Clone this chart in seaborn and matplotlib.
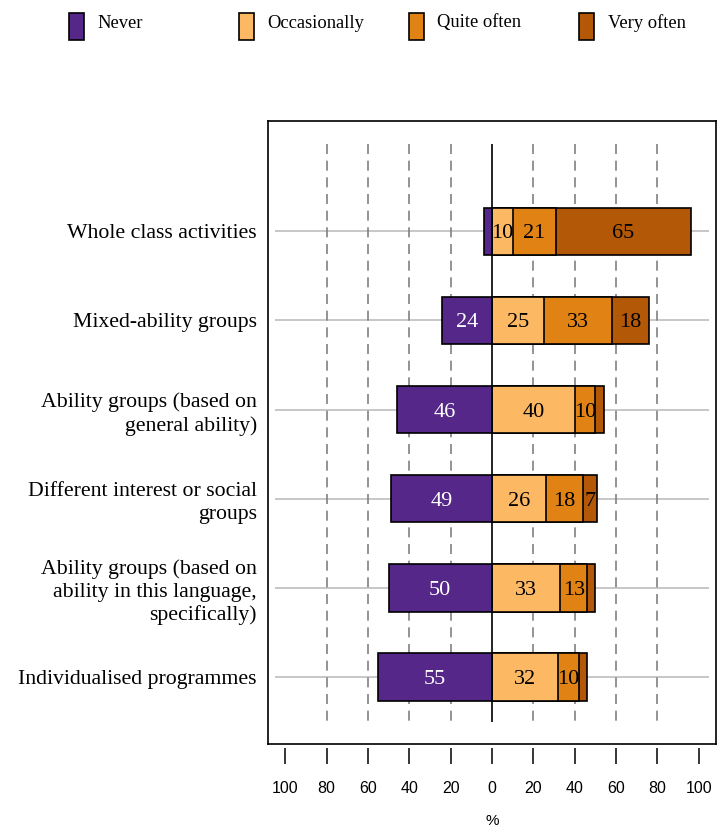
import numpy as np
import pandas as pd
import matplotlib.pyplot as plt
import seaborn as sns
from matplotlib.patches import Rectangle

sns.set_style("white")
plt.rcParams['font.family'] = ['Liberation Serif', 'DejaVu Serif']
plt.rcParams['text.color'] = 'black'
plt.rcParams['axes.labelcolor'] = 'black'
plt.rcParams['xtick.color'] = 'black'
plt.rcParams['ytick.color'] = 'black'

activities = ["Whole class activities",
              "Mixed-ability groups",
              "Ability groups (based on\ngeneral ability)",
              "Different interest or social\ngroups",
              "Ability groups (based on\nability in this language,\nspecifically)",
              "Individualised programmes"]
never = [4, 24, 46, 49, 50, 55]
occasionally = [10, 25, 40, 26, 33, 32]
quite_often = [21, 33, 10, 18, 13, 10]
very_often = [65, 18, 4, 7, 4, 4]
levels = ["Never", "Occasionally", "Quite often", "Very often"]
colors = ["#542788", "#fdb863", "#e08214", "#b35806"]
ticks = [-100, -80, -60, -40, -20, 0, 20, 40, 60, 80, 100]

df = pd.DataFrame({"activity": activities, "Never": never,
                   "Occasionally": occasionally, "Quite often": quite_often,
                   "Very often": very_often})
# cumulative right ends, never goes left
df["neg"] = -df["Never"]
df["c1"] = df["Occasionally"]
df["c2"] = df["c1"] + df["Quite often"]
df["c3"] = df["c2"] + df["Very often"]

fig = plt.figure(figsize=(7.23, 8.35), dpi=100)
ax = fig.add_axes([268/723, 1-744/835, (716-268)/723, (744-120.7)/835])

n = len(activities)
ax.hlines(range(n), -105, 105, color="#bdbdbd", lw=1.2, zorder=0)
ax.vlines([t for t in ticks if t not in (0, -100, 100)], -0.98, 5.5,
          color="#808080", lw=1.2, linestyles=(0, (6, 4)), zorder=0)

# draw longest first so the shorter cumulative bars sit on top
for col, color in [("c3", colors[3]), ("c2", colors[2]), ("c1", colors[1]), ("neg", colors[0])]:
    sns.barplot(data=df, x=col, y="activity", order=activities, color=color,
                orient="h", width=0.53, saturation=1, edgecolor="black",
                linewidth=1.2, ax=ax, zorder=2)

ax.vlines(0, -0.98, 5.5, color="black", lw=1.2, zorder=3)

# segment labels
for i in range(n):
    segs = [(-never[i] / 2, never[i], "white"),
            (occasionally[i] / 2, occasionally[i], "black"),
            (occasionally[i] + quite_often[i] / 2, quite_often[i], "black"),
            (occasionally[i] + quite_often[i] + very_often[i] / 2, very_often[i], "black")]
    for cx, v, tc in segs:
        if v >= 7:
            ax.text(cx, i, str(v), ha="center", va="center_baseline", fontsize=16,
                    color=tc, zorder=4)

ax.set_xlim(-108.3, 108.3)
ax.set_ylim(5.75, -1.24)
ax.set_xticks([])
ax.set_xlabel("")
ax.set_ylabel("")
ax.set_yticks(range(n), labels=activities)
for lab in ax.get_yticklabels():
    lab.set_linespacing(1.25)
ax.tick_params(axis="y", length=0, pad=8, labelsize=15.7)
for s in ax.spines.values():
    s.set_visible(True)
    s.set_color("black")
    s.set_linewidth(1.2)

sec = ax.secondary_xaxis(-4/623.3)
sec.set_xticks(ticks, labels=[str(abs(t)) for t in ticks])
sec.spines["bottom"].set_visible(False)
sec.tick_params(length=11.5, width=1.1, pad=12.5, labelsize=11.5,
                labelfontfamily="Liberation Sans")
sec.set_xlabel("%", fontfamily="Liberation Sans", fontsize=11, labelpad=13)

# legend across the top
for i, (lab, col) in enumerate(zip(levels, colors)):
    x0 = 69 + 170 * i
    fig.add_artist(Rectangle((x0/723, 1-40/835), 15/723, 26.7/835,
                             transform=fig.transFigure, facecolor=col,
                             edgecolor="black", lw=1.2))
    fig.text((x0 + 28.5)/723, 1-27.5/835, lab, fontsize=13.3, va="baseline")

fig.savefig("out.png", dpi=100)
